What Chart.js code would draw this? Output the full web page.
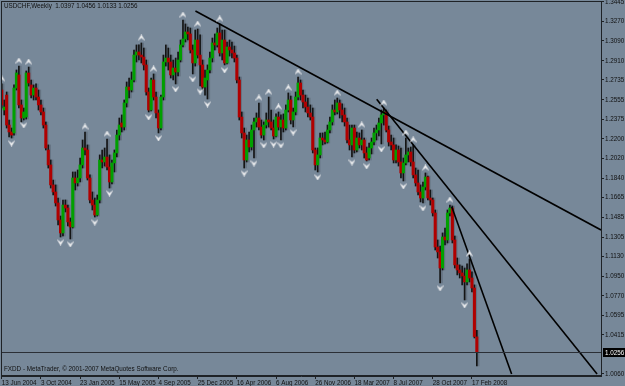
<!DOCTYPE html>
<html>
<head>
<meta charset="utf-8">
<script src="https://cdn.jsdelivr.net/npm/chart.js@4.4.1/dist/chart.umd.min.js"></script>
<style>
  html, body { margin: 0; padding: 0; background: #778899; }
  canvas { display: block; }
</style>
</head>
<body>
<canvas id="myChart" width="625" height="386"></canvas>
<script>
// Datos: USDCHF semanal, 13 Jun 2004 - 2 Mar 2008 (una vela por semana)
const symbolTitle = 'USDCHF,Weekly';
const copyrightText = 'FXDD - MetaTrader, \u00a9 2001-2007 MetaQuotes Software Corp.';

const dateLabels = ['13 Jun 2004', '3 Oct 2004', '23 Jan 2005', '15 May 2005', '4 Sep 2005', '25 Dec 2005',
  '16 Apr 2006', '6 Aug 2006', '26 Nov 2006', '18 Mar 2007', '8 Jul 2007', '28 Oct 2007', '17 Feb 2008'];
const barsPerLabel = 16;

const priceTicks = [1.3445, 1.3270, 1.3090, 1.2910, 1.2735, 1.2555, 1.2375, 1.2200, 1.2020, 1.1840,
  1.1665, 1.1485, 1.1305, 1.1130, 1.0950, 1.0770, 1.0595, 1.0415, 1.0060];

const opens = [
  1.2644, 1.2462, 1.2598, 1.2325, 1.2262, 1.2253, 1.2662, 1.2781, 1.2508, 1.2389,
  1.2398, 1.2799, 1.2690, 1.2598, 1.2662, 1.2580, 1.2508, 1.2444, 1.2325, 1.2098,
  1.1962, 1.1780, 1.1716, 1.1616, 1.1461, 1.1343, 1.1597, 1.1570, 1.1443, 1.1397,
  1.1843, 1.1798, 1.1843, 1.1962, 1.2116, 1.2098, 1.1843, 1.1643, 1.1597, 1.1506,
  1.1643, 1.2007, 1.1989, 1.2034, 1.1943, 1.1807, 1.1980, 1.2071, 1.2234, 1.2344,
  1.2307, 1.2526, 1.2671, 1.2644, 1.2735, 1.2962, 1.2990, 1.2962, 1.2944, 1.2872,
  1.2626, 1.2462, 1.2735, 1.2580, 1.2435, 1.2298, 1.2580, 1.2899, 1.2935, 1.2899,
  1.2781, 1.2844, 1.2808, 1.2917, 1.3054, 1.3108, 1.3172, 1.3154, 1.3008, 1.2890,
  1.3099, 1.2962, 1.2872, 1.2671, 1.2735, 1.2826, 1.2935, 1.3072, 1.3054, 1.3163,
  1.2981, 1.3099, 1.2890, 1.3035, 1.3008, 1.2981, 1.2935, 1.2735, 1.2398, 1.2253,
  1.2007, 1.2189, 1.2125, 1.2280, 1.2353, 1.2389, 1.2307, 1.2234, 1.2325, 1.2371,
  1.2353, 1.2298, 1.2225, 1.2398, 1.2307, 1.2371, 1.2298, 1.2462, 1.2553, 1.2371,
  1.2444, 1.2580, 1.2708, 1.2598, 1.2535, 1.2489, 1.2435, 1.2398, 1.2098, 1.1962,
  1.2053, 1.2207, 1.2189, 1.2171, 1.2280, 1.2353, 1.2462, 1.2444, 1.2526, 1.2462,
  1.2417, 1.2353, 1.2189, 1.2144, 1.2298, 1.2098, 1.2207, 1.2144, 1.2189, 1.2071,
  1.2025, 1.2116, 1.2171, 1.2253, 1.2280, 1.2344, 1.2417, 1.2444, 1.2280, 1.2171,
  1.2144, 1.2007, 1.2098, 1.1989, 1.1889, 1.1980, 1.2053, 1.2080, 1.1989, 1.1871,
  1.1798, 1.1716, 1.1661, 1.1761, 1.1852, 1.1661, 1.1643, 1.1525, 1.1215, 1.1170,
  1.1024, 1.1306, 1.1279, 1.1525, 1.1570, 1.1279, 1.1052, 1.1006, 1.0979, 1.0951,
  1.0897, 1.1006, 1.0933, 1.0842, 1.0397
];
const highs = [
  1.2699, 1.2553, 1.2626, 1.2371, 1.2298, 1.2690, 1.2826, 1.2862, 1.2553, 1.2480,
  1.2817, 1.2853, 1.2735, 1.2690, 1.2699, 1.2644, 1.2553, 1.2480, 1.2353, 1.2144,
  1.2007, 1.1825, 1.1780, 1.1661, 1.1497, 1.1643, 1.1643, 1.1597, 1.1479, 1.1898,
  1.1898, 1.1916, 1.2025, 1.2189, 1.2262, 1.2144, 1.1871, 1.1716, 1.1661, 1.1688,
  1.2053, 1.2098, 1.2116, 1.2198, 1.2053, 1.2007, 1.2098, 1.2280, 1.2389, 1.2417,
  1.2553, 1.2717, 1.2753, 1.2808, 1.3008, 1.3054, 1.3054, 1.3072, 1.3026, 1.2917,
  1.2662, 1.2753, 1.2790, 1.2626, 1.2462, 1.2598, 1.2962, 1.3054, 1.3026, 1.2962,
  1.2917, 1.2935, 1.2990, 1.3099, 1.3281, 1.3245, 1.3217, 1.3208, 1.3054, 1.3190,
  1.3199, 1.3145, 1.2917, 1.2826, 1.2872, 1.2990, 1.3117, 1.3154, 1.3208, 1.3245,
  1.3190, 1.3190, 1.3081, 1.3099, 1.3081, 1.3044, 1.2962, 1.2762, 1.2444, 1.2298,
  1.2234, 1.2262, 1.2325, 1.2389, 1.2435, 1.2526, 1.2371, 1.2353, 1.2435, 1.2580,
  1.2462, 1.2371, 1.2426, 1.2444, 1.2417, 1.2426, 1.2508, 1.2617, 1.2589, 1.2480,
  1.2626, 1.2762, 1.2735, 1.2644, 1.2598, 1.2571, 1.2508, 1.2480, 1.2116, 1.2116,
  1.2253, 1.2253, 1.2262, 1.2325, 1.2398, 1.2508, 1.2553, 1.2571, 1.2553, 1.2517,
  1.2480, 1.2389, 1.2325, 1.2325, 1.2325, 1.2262, 1.2253, 1.2280, 1.2207, 1.2125,
  1.2162, 1.2207, 1.2298, 1.2325, 1.2389, 1.2462, 1.2480, 1.2462, 1.2316, 1.2234,
  1.2207, 1.2144, 1.2134, 1.2116, 1.2025, 1.2207, 1.2116, 1.2125, 1.2144, 1.1934,
  1.1916, 1.1780, 1.1807, 1.1889, 1.1861, 1.1734, 1.1661, 1.1552, 1.1279, 1.1224,
  1.1343, 1.1388, 1.1552, 1.1597, 1.1588, 1.1315, 1.1115, 1.1052, 1.1042, 1.1024,
  1.1061, 1.1106, 1.0988, 1.0870, 1.0456
];
const lows = [
  1.2480, 1.2417, 1.2298, 1.2216, 1.2207, 1.2234, 1.2644, 1.2480, 1.2353, 1.2371,
  1.2380, 1.2680, 1.2571, 1.2553, 1.2553, 1.2462, 1.2417, 1.2298, 1.2098, 1.1934,
  1.1752, 1.1688, 1.1588, 1.1416, 1.1306, 1.1315, 1.1534, 1.1406, 1.1288, 1.1388,
  1.1734, 1.1770, 1.1807, 1.1934, 1.2053, 1.1825, 1.1616, 1.1552, 1.1488, 1.1497,
  1.1616, 1.1934, 1.1952, 1.1916, 1.1752, 1.1789, 1.1898, 1.2034, 1.2189, 1.2262,
  1.2280, 1.2489, 1.2571, 1.2626, 1.2717, 1.2899, 1.2917, 1.2890, 1.2826, 1.2598,
  1.2444, 1.2453, 1.2553, 1.2389, 1.2253, 1.2280, 1.2553, 1.2862, 1.2826, 1.2753,
  1.2735, 1.2699, 1.2771, 1.2899, 1.3035, 1.3081, 1.3099, 1.2981, 1.2790, 1.2862,
  1.2935, 1.2680, 1.2644, 1.2598, 1.2562, 1.2799, 1.2899, 1.3008, 1.3035, 1.2953,
  1.2917, 1.2872, 1.2881, 1.2953, 1.2935, 1.2899, 1.2708, 1.2371, 1.2207, 1.1934,
  1.1989, 1.2080, 1.2098, 1.2025, 1.2307, 1.2280, 1.2207, 1.2189, 1.2298, 1.2307,
  1.2280, 1.2198, 1.2216, 1.2280, 1.2189, 1.2262, 1.2280, 1.2444, 1.2335, 1.2307,
  1.2417, 1.2553, 1.2553, 1.2480, 1.2444, 1.2398, 1.2371, 1.2071, 1.1916, 1.1898,
  1.2025, 1.2144, 1.2153, 1.2162, 1.2253, 1.2325, 1.2417, 1.2426, 1.2389, 1.2353,
  1.2316, 1.2162, 1.2098, 1.2034, 1.2071, 1.2080, 1.2116, 1.2098, 1.2025, 1.1998,
  1.2007, 1.2062, 1.2144, 1.2189, 1.2225, 1.2153, 1.2325, 1.2262, 1.2134, 1.2098,
  1.1980, 1.1980, 1.1952, 1.1843, 1.1816, 1.1962, 1.1989, 1.1952, 1.1843, 1.1770,
  1.1688, 1.1625, 1.1616, 1.1734, 1.1643, 1.1597, 1.1497, 1.1188, 1.1115, 1.0888,
  1.1006, 1.1234, 1.1252, 1.1497, 1.1252, 1.1024, 1.0961, 1.0933, 1.0870, 1.0733,
  1.0870, 1.0897, 1.0806, 1.0387, 1.0133
];
const closes = [
  1.2508, 1.2489, 1.2325, 1.2262, 1.2234, 1.2662, 1.2799, 1.2508, 1.2389, 1.2444,
  1.2799, 1.2708, 1.2598, 1.2662, 1.2580, 1.2508, 1.2444, 1.2325, 1.2116, 1.1962,
  1.1780, 1.1716, 1.1616, 1.1461, 1.1343, 1.1597, 1.1570, 1.1443, 1.1397, 1.1843,
  1.1798, 1.1843, 1.1962, 1.2116, 1.2098, 1.1843, 1.1643, 1.1597, 1.1506, 1.1643,
  1.2007, 1.1989, 1.2034, 1.1943, 1.1807, 1.1980, 1.2071, 1.2234, 1.2325, 1.2307,
  1.2526, 1.2671, 1.2644, 1.2735, 1.2962, 1.2990, 1.2962, 1.2944, 1.2872, 1.2626,
  1.2462, 1.2735, 1.2580, 1.2435, 1.2298, 1.2580, 1.2899, 1.2935, 1.2899, 1.2781,
  1.2844, 1.2808, 1.2917, 1.3054, 1.3108, 1.3172, 1.3154, 1.3008, 1.2890, 1.3099,
  1.2962, 1.2872, 1.2671, 1.2753, 1.2826, 1.2935, 1.3072, 1.3054, 1.3163, 1.2981,
  1.3099, 1.2890, 1.3035, 1.3008, 1.2981, 1.2935, 1.2735, 1.2398, 1.2253, 1.2007,
  1.2189, 1.2125, 1.2280, 1.2353, 1.2389, 1.2307, 1.2234, 1.2325, 1.2371, 1.2353,
  1.2298, 1.2225, 1.2398, 1.2307, 1.2371, 1.2298, 1.2462, 1.2553, 1.2371, 1.2444,
  1.2580, 1.2708, 1.2598, 1.2535, 1.2489, 1.2435, 1.2398, 1.2098, 1.1962, 1.2053,
  1.2207, 1.2189, 1.2171, 1.2280, 1.2353, 1.2462, 1.2444, 1.2526, 1.2462, 1.2417,
  1.2353, 1.2189, 1.2144, 1.2298, 1.2098, 1.2207, 1.2144, 1.2189, 1.2071, 1.2007,
  1.2116, 1.2171, 1.2253, 1.2280, 1.2344, 1.2417, 1.2444, 1.2280, 1.2171, 1.2144,
  1.2007, 1.2098, 1.1989, 1.1889, 1.1980, 1.2053, 1.2080, 1.1989, 1.1871, 1.1798,
  1.1716, 1.1661, 1.1761, 1.1852, 1.1661, 1.1643, 1.1525, 1.1215, 1.1170, 1.1024,
  1.1306, 1.1279, 1.1525, 1.1570, 1.1279, 1.1052, 1.1006, 1.0979, 1.0951, 1.0897,
  1.1006, 1.0933, 1.0842, 1.0400, 1.0256
];

// Fractales (índice de la vela)
const fractalUp = [0, 7, 11, 34, 43, 57, 62, 74, 80, 89, 105, 109, 113, 117, 121, 137, 147, 156, 165, 168, 173, 183, 191];
const fractalDown = [4, 9, 24, 28, 38, 44, 60, 64, 71, 78, 81, 84, 91, 99, 103, 107, 111, 114, 119, 129, 143, 149, 155, 164, 172, 179, 189];

// Líneas de tendencia: [índice, precio] inicio y fin
const trendA = [[79.1, 1.3363], [244.7, 1.1370]];
const trendB = [[153.1, 1.2559], [243.1, 1.0060]];
const trendC = [[183.75, 1.1582], [208.2, 1.0060]];

const last = closes.length - 1;

// Flechas de los fractales
const makeArrow = (up) => {
  const c = document.createElement('canvas');
  c.width = 7; c.height = 17;
  const g = c.getContext('2d');
  g.fillStyle = '#f4f4f4';
  g.strokeStyle = '#d0d4da';
  g.lineWidth = 0.6;
  g.beginPath();
  if (up) {
    g.moveTo(0.2, 5.8); g.lineTo(3.5, 0.2); g.lineTo(6.8, 5.8); g.lineTo(3.5, 3.6);
  } else {
    g.moveTo(0.2, 11.2); g.lineTo(3.5, 16.8); g.lineTo(6.8, 11.2); g.lineTo(3.5, 13.4);
  }
  g.closePath();
  g.fill();
  g.stroke();
  return c;
};

const fontFamily = '"Liberation Sans", Arial, sans-serif';
const textFont = '6.3px ' + fontFamily;

// Fondo, marco, línea de precio y textos
const mtPlugin = {
  id: 'mtPlugin',
  beforeDraw(chart) {
    const ctx = chart.ctx;
    ctx.save();
    ctx.fillStyle = '#778899';
    ctx.fillRect(0, 0, chart.width, chart.height);
    ctx.restore();
  },
  afterDraw(chart) {
    const ctx = chart.ctx;
    const a = chart.chartArea;
    const yPos = Math.round(chart.scales.y.getPixelForValue(closes[last]));
    ctx.save();
    // línea del último precio
    ctx.strokeStyle = '#2b2f36';
    ctx.lineWidth = 1;
    ctx.beginPath();
    ctx.moveTo(a.left, yPos + 0.5);
    ctx.lineTo(a.right, yPos + 0.5);
    ctx.stroke();
    // marco
    ctx.strokeStyle = '#1e2226';
    ctx.strokeRect(Math.round(a.left) + 0.5, Math.round(a.top) + 0.5,
      Math.round(a.right - a.left), Math.round(a.bottom - a.top) - 1);
    // etiqueta del precio actual
    ctx.fillStyle = '#000';
    ctx.fillRect(a.right + 2, yPos - 4, 22, 9);
    ctx.fillStyle = '#fff';
    ctx.font = textFont;
    ctx.textBaseline = 'middle';
    ctx.textAlign = 'left';
    ctx.fillText(closes[last].toFixed(4), a.right + 4, yPos + 1);
    // textos
    ctx.fillStyle = '#111';
    const title = symbolTitle + '  ' + [opens[last], highs[last], lows[last], closes[last]].map(v => v.toFixed(4)).join(' ');
    ctx.fillText(title, a.left + 3, a.top + 5);
    ctx.fillText(copyrightText, a.left + 3, a.bottom - 7);
    ctx.restore();
  }
};

const wickData = highs.map((h, i) => ({ x: i, y: [lows[i], h] }));
const ghostData = highs.map((h, i) => ({ x: i + 0.55, y: [lows[i], h] }));
const bodyData = opens.map((o, i) => ({ x: i, y: [o, closes[i]] }));
const bodyColors = opens.map((o, i) => closes[i] >= o ? '#00a000' : '#b00000');
const lineData = (t) => t.map(p => ({ x: p[0], y: p[1] }));

const datasets = [
  { type: 'bar', data: ghostData, backgroundColor: 'rgba(70,78,88,0.35)', barThickness: 2, grouped: false, order: 5 },
  { type: 'bar', data: wickData, backgroundColor: '#141414', barThickness: 1, grouped: false, order: 4 },
  { type: 'bar', data: bodyData, backgroundColor: bodyColors, barThickness: 2.4, minBarLength: 1, grouped: false, order: 3 },
  { type: 'line', data: lineData(trendA), borderColor: '#000', borderWidth: 1.6, pointRadius: 0, order: 1 },
  { type: 'line', data: lineData(trendB), borderColor: '#000', borderWidth: 1.6, pointRadius: 0, order: 1 },
  { type: 'line', data: lineData(trendC), borderColor: '#000', borderWidth: 1.6, pointRadius: 0, order: 1 },
  { type: 'line', data: fractalUp.map(i => ({ x: i, y: highs[i] })), showLine: false,
    pointStyle: makeArrow(true), pointRadius: 4, order: 0 },
  { type: 'line', data: fractalDown.map(i => ({ x: i, y: lows[i] })), showLine: false,
    pointStyle: makeArrow(false), pointRadius: 4, order: 0 }
];

const config = {
  type: 'bar',
  data: { datasets },
  options: {
    responsive: false,
    animation: false,
    devicePixelRatio: 1,
    layout: { autoPadding: false, padding: { left: 1, top: 1, right: 0, bottom: 0 } },
    plugins: { legend: { display: false }, tooltip: { enabled: false } },
    scales: {
      x: {
        type: 'linear',
        min: -0.3,
        max: 244.7,
        offset: false,
        grid: { offset: false, drawOnChartArea: false, tickLength: 3, color: '#1e2226' },
        border: { display: true, color: '#1e2226' },
        ticks: {
          align: 'start', autoSkip: false, maxRotation: 0, padding: 0,
          font: { family: fontFamily, size: 6.3 }, color: '#111',
          callback: (v, k) => dateLabels[k]
        },
        afterBuildTicks: (scale) => { scale.ticks = dateLabels.map((d, k) => ({ value: k * barsPerLabel })); },
        afterFit: (scale) => {
          scale.height = 10;
          scale.paddingLeft = 0; scale.paddingRight = 0;
        }
      },
      y: {
        type: 'linear',
        position: 'right',
        min: 1.0041,
        max: 1.3454,
        grid: { drawOnChartArea: false, tickLength: 3, color: '#1e2226' },
        border: { display: true, color: '#1e2226' },
        ticks: {
          padding: 1,
          font: { family: fontFamily, size: 6.3 }, color: '#111',
          callback: (v) => v.toFixed(4)
        },
        afterBuildTicks: (scale) => { scale.ticks = priceTicks.map(v => ({ value: v })); },
        afterFit: (scale) => {
          scale.width = 24;
          scale.paddingTop = 0; scale.paddingBottom = 0;
        }
      }
    }
  },
  plugins: [mtPlugin]
};

new Chart(document.getElementById('myChart'), config);
</script>
</body>
</html>
